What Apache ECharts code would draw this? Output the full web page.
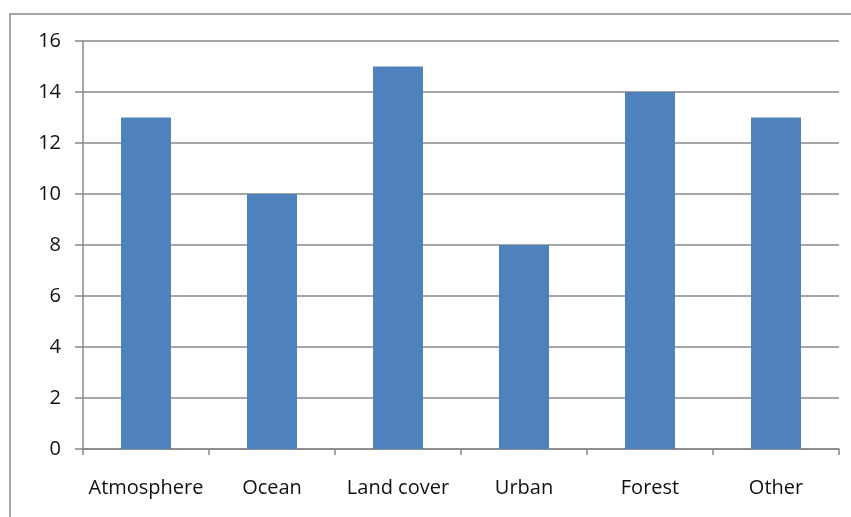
<!DOCTYPE html>
<html>
<head>
	<meta charset="utf-8">
	<title>chart</title>
	<script src="https://cdn.jsdelivr.net/npm/echarts@6/dist/echarts.min.js"></script>
	<style>
		html, body { margin: 0; padding: 0; background: #fff; }
		#chart { width: 851px; height: 517px; }
	</style>
</head>
<body>
<div id="chart"></div>
<script>
	// data
	var categories = ['Atmosphere', 'Ocean', 'Land cover', 'Urban', 'Forest', 'Other'];
	var counts = [13, 10, 15, 8, 14, 13];

	var myChart = echarts.init(document.getElementById('chart'));
	var option = {
		animation: false,
		backgroundColor: '#fff',
		textStyle: { fontFamily: 'Open Sans' },
		graphic: [{
			type: 'rect',
			shape: { x: 10, y: 14, width: 900, height: 600 },
			style: { fill: 'none', stroke: '#888', lineWidth: 1.5 },
			silent: true
		}],
		grid: { left: 83, right: 12, top: 41, bottom: 68 },
		xAxis: {
			type: 'category',
			data: categories,
			axisLine: { lineStyle: { color: '#888', width: 1.5 } },
			axisTick: { show: true, length: 6, lineStyle: { color: '#888', width: 1.5 } },
			axisLabel: { color: '#111', fontSize: 20, margin: 29, interval: 0 }
		},
		yAxis: {
			type: 'value',
			min: 0,
			max: 16,
			interval: 2,
			axisLine: { show: true, lineStyle: { color: '#888', width: 1.5 } },
			axisTick: { show: true, length: 8, lineStyle: { color: '#888', width: 1.5 } },
			axisLabel: { color: '#111', fontSize: 20, margin: 22 },
			splitLine: { lineStyle: { color: '#888', width: 1.5 } }
		},
		series: [{
			type: 'bar',
			data: counts,
			barWidth: 50,
			itemStyle: { color: '#4F81BD' }
		}]
	};
	myChart.setOption(option);
</script>
</body>
</html>
